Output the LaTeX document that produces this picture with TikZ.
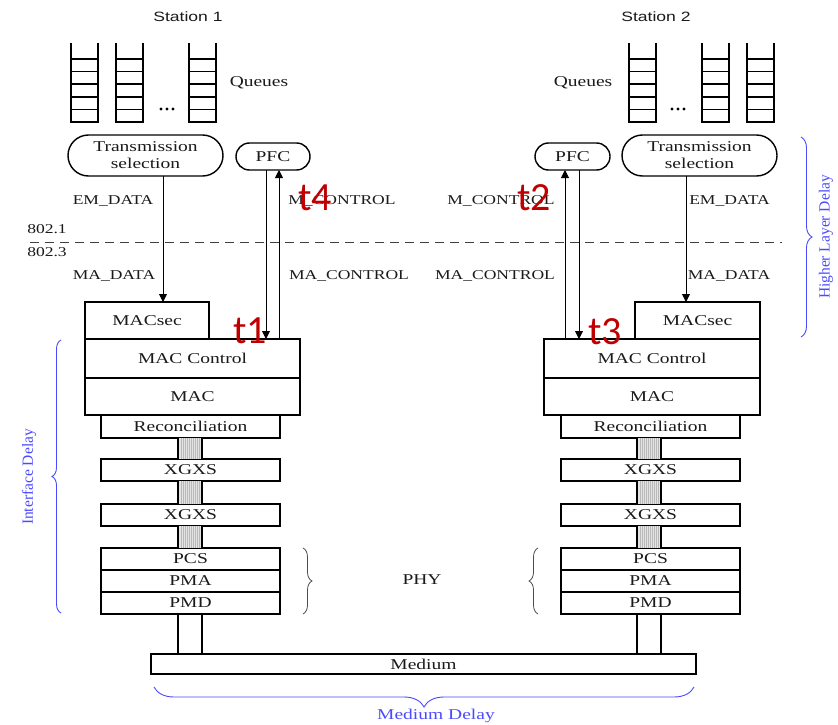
\documentclass[tikz,border=0pt]{standalone}
\usepackage{fontspec}
\setmainfont{Liberation Serif}[FakeStretch=1.3]
\newfontfamily\stfont{Liberation Sans}[FakeStretch=1.3]
\newfontfamily\rotfont{Liberation Serif}
\newfontfamily\tfont{Carlito}
\usetikzlibrary{arrows.meta,decorations.pathreplacing,shapes.misc}
\definecolor{txt}{HTML}{1A1A1A}
\definecolor{dlblue}{HTML}{4A4AFF}
\definecolor{tred}{HTML}{C00000}
\tikzset{
  box/.style={draw, line width=1.8pt, inner sep=0pt, outer sep=0pt, text=txt, font=\fontsize{15}{18}\selectfont},
  pill/.style={draw, rounded rectangle, line width=1.4pt, inner sep=0pt, outer sep=0pt, text=txt, align=center, font=\fontsize{15}{17}\selectfont},
  lbl/.style={inner sep=0pt, text=txt, font=\fontsize{13.5}{16}\selectfont},
  arr/.style={line width=0.9pt, -{Triangle[length=8pt,width=8pt]}},
  ln/.style={line width=0.9pt},
  qline/.style={line width=1.8pt},
  tlab/.style={inner sep=0pt, text=tred, font=\tfont\fontsize{40}{40}\selectfont},
  dbrace/.style={dlblue, line width=0.9pt, decorate, decoration={brace, amplitude=#1}},
  gbrace/.style={black!70, line width=0.8pt, decorate, decoration={brace, amplitude=#1}},
  blbl/.style={inner sep=0pt, text=dlblue, font=\fontsize{15}{18}\selectfont},
  rlbl/.style={inner sep=0pt, text=dlblue, rotate=90, font=\rotfont\fontsize{15.5}{18}\selectfont},
}
\newcommand\bx[6]{\node[box,minimum width={#4-#2},minimum height={#5-#3}] (#1) at ({(#2+#4)/2},{(#3+#5)/2}) {#6};}
\newcommand\queue[1]{%
  \draw[qline] (#1,43) -- (#1,123);
  \draw[qline] ({#1+27},43) -- ({#1+27},123);
  \foreach \yy in {59.3,71.7,84,96.7,109.3,121.7} {\draw[line width=1.6pt] (#1,\yy) -- ({#1+27},\yy);}
}
\newcommand\qdots[1]{\foreach \dx in {-6,0,6} {\fill ({#1+\dx},109) circle (1.6pt);}}
\newcommand\hatch[3]{%
  \fill[gray!22] (#1,#2) rectangle ({#1+24},#3);
  \foreach \hx in {3,5,...,21} {\draw[gray!55, line width=0.4pt] ({#1+\hx},#2) -- ({#1+\hx},#3);}
  \draw[line width=1.8pt] (#1,#2) -- (#1,#3);
  \draw[line width=1.8pt] ({#1+24},#2) -- ({#1+24},#3);
}
\begin{document}
\begin{tikzpicture}[x=1pt,y=-1pt]
\useasboundingbox (0,0) rectangle (838,725);

% station titles
\node[inner sep=0pt, text=txt, font=\stfont\fontsize{13.5}{16}\selectfont] (st1) at (188,17) {Station 1};
\node[inner sep=0pt, text=txt, font=\stfont\fontsize{13.5}{16}\selectfont] (st2) at (656,17) {Station 2};

% queues
\queue{71}\queue{116}\queue{189}\qdots{167}
\queue{629}\queue{702}\queue{747}\qdots{678}
\node[inner sep=0pt, text=txt, font=\fontsize{15}{18}\selectfont] (q1) at (259,83) {Queues};
\node[inner sep=0pt, text=txt, font=\fontsize{15}{18}\selectfont] (q2) at (583,83) {Queues};

% selection and PFC
\node[pill, minimum width=155, minimum height=41] (ts1) at (145.5,155.5) {Transmission\\selection};
\node[pill, minimum width=74, minimum height=27] (pfc1) at (273,156.5) {PFC};
\node[pill, minimum width=75, minimum height=27] (pfc2) at (572.5,156.5) {PFC};
\node[pill, minimum width=155, minimum height=41] (ts2) at (699.5,155.5) {Transmission\\selection};

% dashed separator
\draw[black!75, line width=0.9pt, dash pattern=on 9pt off 6pt] (30,242) -- (782,242);
\node[lbl] (l8021) at (47,229) {802.1};
\node[lbl] (l8023) at (47,252) {802.3};

% station 1 stack
\bx{macsec1}{85}{302}{209}{339}{MACsec}
\bx{macctl1}{85}{339}{300}{378}{MAC Control}
\bx{mac1}{85}{378}{300}{415}{MAC}
\bx{rec1}{101}{415}{280}{438}{Reconciliation}
\bx{xa1}{101}{459}{280}{481}{XGXS}
\bx{xb1}{101}{504}{280}{526}{XGXS}
\bx{pcs1}{101}{548}{280}{570}{PCS}
\bx{pma1}{101}{570}{280}{592}{PMA}
\bx{pmd1}{101}{592}{280}{614}{PMD}
\hatch{178}{438}{459}
\hatch{178}{481}{504}
\hatch{178}{526}{548}

% station 2 stack
\bx{macsec2}{635}{302}{760}{339}{MACsec}
\bx{macctl2}{544}{339}{760}{378}{MAC Control}
\bx{mac2}{544}{378}{760}{415}{MAC}
\bx{rec2}{561}{415}{740}{438}{Reconciliation}
\bx{xa2}{561}{459}{740}{481}{XGXS}
\bx{xb2}{561}{504}{740}{526}{XGXS}
\bx{pcs2}{561}{548}{740}{570}{PCS}
\bx{pma2}{561}{570}{740}{592}{PMA}
\bx{pmd2}{561}{592}{740}{614}{PMD}
\hatch{637}{438}{459}
\hatch{637}{481}{504}
\hatch{637}{526}{548}

% medium
\bx{med}{151}{654}{696}{674}{Medium}
\draw[line width=1.8pt] ([xshift=-12.5pt]pmd1.south) -- ([xshift=-12.5pt]pmd1.south |- med.north);
\draw[line width=1.8pt] ([xshift=11.5pt]pmd1.south) -- ([xshift=11.5pt]pmd1.south |- med.north);
\draw[line width=1.8pt] ([xshift=-13.5pt]pmd2.south) -- ([xshift=-13.5pt]pmd2.south |- med.north);
\draw[line width=1.8pt] ([xshift=10.5pt]pmd2.south) -- ([xshift=10.5pt]pmd2.south |- med.north);

% service arrows station 1
\draw[arr] ([xshift=17.5pt]ts1.south) -- ([xshift=17.5pt]ts1.south |- macsec1.north);
\draw[arr] ([xshift=-7pt]pfc1.south) -- ([xshift=-7pt]pfc1.south |- macctl1.north);
\draw[arr] ([xshift=6pt]pfc1.south |- macctl1.north) -- ([xshift=6pt]pfc1.south);
% service arrows station 2
\draw[arr] ([xshift=-7.5pt]pfc2.south |- macctl2.north) -- ([xshift=-7.5pt]pfc2.south);
\draw[arr] ([xshift=6.5pt]pfc2.south) -- ([xshift=6.5pt]pfc2.south |- macctl2.north);
\draw[arr] ([xshift=-13.5pt]ts2.south) -- ([xshift=-13.5pt]ts2.south |- macsec2.north);

% primitive labels
\node[lbl] (em1) at (113,201) {EM\_DATA};
\node[lbl] (mc1) at (342,201) {M\_CONTROL};
\node[lbl] (ma1) at (114,276) {MA\_DATA};
\node[lbl] (mac1l) at (349,276) {MA\_CONTROL};
\node[lbl] (mc2) at (501,201) {M\_CONTROL};
\node[lbl] (em2) at (729.5,201) {EM\_DATA};
\node[lbl] (mac2l) at (495,276) {MA\_CONTROL};
\node[lbl] (ma2) at (729,276) {MA\_DATA};

% PHY braces
\draw[gbrace=9pt] (303,548) -- (303,614);
\draw[gbrace=9pt] (538,614) -- (538,548);
\node[inner sep=0pt, text=txt, font=\fontsize{15}{18}\selectfont] (phy) at (422,580) {PHY};

% blue delay braces
\draw[dbrace=9pt] (61,613) -- (61,340);
\node[rlbl] (idl) at (29,477) {Interface Delay};
\draw[dbrace=11pt] (801,137) -- (801,337);
\node[rlbl] (hdl) at (826,237) {Higher Layer Delay};
\draw[dbrace=20pt] (694,687) -- (154,687);
\node[blbl] (mdl) at (436,716) {Medium Delay};

% timestamps
\node[tlab] (t4) at (315,198) {t4};
\node[tlab] (t2) at (534,198) {t2};
\node[tlab] (t1) at (250,331) {t1};
\node[tlab] (t3) at (605,332) {t3};
\end{tikzpicture}
\end{document}
